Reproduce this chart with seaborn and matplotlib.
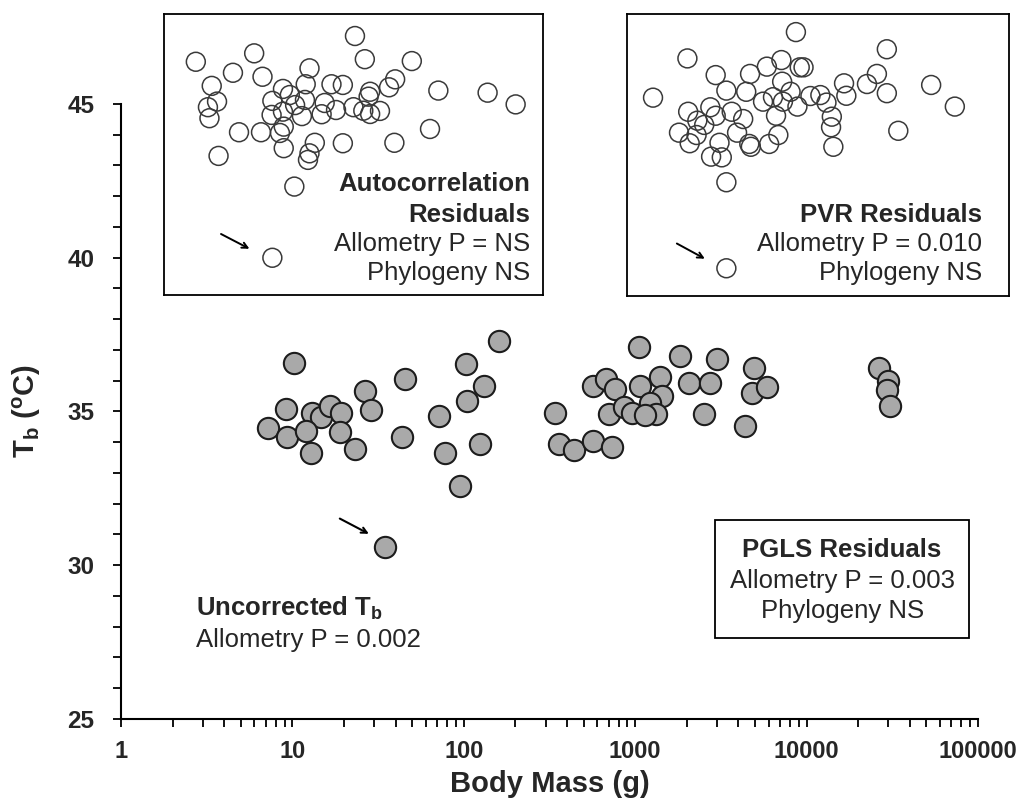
import matplotlib
matplotlib.use("Agg")
import matplotlib.pyplot as plt
import seaborn as sns
import pandas as pd
from matplotlib.patches import Rectangle
from matplotlib.ticker import MultipleLocator, LogLocator, NullFormatter

# Uncorrected body temperature (Tb, deg C) vs body mass (g)
mass = [10.2, 9.24, 7.22, 9.36, 13.1, 14.6, 16.6, 19.3, 12.0, 12.8,
        19.0, 23.1, 26.4, 28.9, 45.2, 43.8, 103, 161, 131, 105,
        71.6, 77.3, 124, 94.6, 34.5,
        1048, 343, 358, 438, 565, 733, 568, 679, 767, 701,
        857, 959, 1062, 1403, 1435, 1227, 1329, 1146, 1834, 2050,
        2717, 3001, 2530, 4347, 4970, 4839, 5917, 26600, 30000, 29650,
        30700]
tb = [36.57, 35.07, 34.47, 34.16, 34.96, 34.83, 35.18, 34.96, 34.37, 33.66,
      34.34, 33.77, 35.67, 35.05, 36.05, 34.18, 36.54, 37.30, 35.83, 35.34,
      34.85, 33.66, 33.94, 32.58, 30.58,
      37.11, 34.94, 33.94, 33.75, 34.05, 33.84, 35.83, 36.05, 35.72, 34.92,
      35.14, 34.94, 35.83, 36.13, 35.50, 35.27, 34.92, 34.89, 36.80, 35.92,
      35.92, 36.70, 34.92, 34.53, 36.40, 35.61, 35.81, 36.40, 36.00, 35.70,
      35.18]

# Autocorrelation residuals inset (x = log10 mass, y = residual)
acr_logmass = [0.42, 1.19, 0.91, 1.30, 0.63, 0.70, 0.58, 0.60, 0.99, 1.28,
               0.72, 1.92, 2.52, 2.65, 1.57, 1.87, 2.21, 2.36, 1.43, 1.73,
               1.57, 1.42, 1.82, 2.08, 2.27, 2.50, 2.63, 2.70, 1.58, 1.58,
               1.99, 1.92, 1.90, 2.36, 1.72, 2.72, 1.53, 3.27, 3.05, 2.97,
               2.85, 2.72, 3.62, 4.27, 4.64, 3.51, 3.04, 1.43, 1.86, 1.66,
               2.12]
acr_resid = [1.96, 2.32, 1.49, 1.32, 0.93, 0.26, 0.02, -0.45, -1.05, -1.05,
             -2.06, 1.68, 3.06, 2.07, 0.80, 1.00, 1.00, 0.97, 0.29, 0.11,
             -0.17, -0.31, -0.36, -0.28, -0.10, 0.02, -0.13, 0.47, -0.81, -1.73,
             -1.50, -1.95, -2.23, -1.52, -3.37, 0.68, -1.08, 1.99, 1.21, 0.87,
             -0.14, -0.27, 0.73, 0.64, 0.14, -0.91, -1.50, -6.41, 0.33, 0.54,
             0.20]

# PVR residuals inset (x = log10 mass, y = residual)
pvr_logmass = [2.21, 0.79, 1.16, 1.30, 1.61, 1.83, 2.02, 2.31, 2.26, 1.56,
               2.03, 2.14, 0.34, 0.80, 1.09, 1.16, 1.37, 1.52, 0.92, 0.68,
               0.91, 0.82, 1.21, 1.44, 1.60, 1.62, 1.86, 1.98, 1.10, 1.24,
               1.30, 1.78, 1.91, 2.04, 1.95, 2.23, 2.40, 2.53, 2.61, 2.68,
               2.67, 2.70, 2.84, 2.87, 3.14, 3.40, 3.27, 3.40, 3.98, 4.29,
               3.55, 1.30, 1.01]
pvr_resid = [3.23, 2.11, 1.40, 0.74, 1.45, 1.76, 2.04, 1.73, 1.73, 0.69,
             1.12, 0.69, 0.44, -0.16, 0.03, -0.33, -0.16, -0.47, -0.54, -1.05,
             -1.15, -1.50, -1.48, -1.05, -1.53, -1.65, -1.53, -1.15, -2.07, -2.10,
             -3.16, 0.27, 0.46, 0.27, -0.33, 0.06, 0.51, 0.55, 0.23, -0.37,
             -0.82, -1.65, 1.05, 0.52, 1.02, 2.50, 1.45, 0.63, 0.98, 0.06,
             -0.97, -6.82, -0.72]

x_ticks = [1, 10, 100, 1000, 10000, 100000]
x_ticklabels = ["1", "10", "100", "1000", "10000", "100000"]
y_ticks = [25, 30, 35, 40, 45]

sns.set_style("ticks")
plt.rcParams["font.family"] = ["Liberation Sans", "DejaVu Sans"]
plt.rcParams["mathtext.fontset"] = "custom"
plt.rcParams["mathtext.rm"] = "Liberation Sans"
plt.rcParams["mathtext.it"] = "Liberation Sans:italic"
plt.rcParams["mathtext.bf"] = "Liberation Sans:bold"

fig = plt.figure(figsize=(10.32, 8), dpi=100)
ax = fig.add_axes([0.1172, 0.10125, 0.8304, 0.76875])

main = pd.DataFrame({"mass": mass, "tb": tb})
sns.scatterplot(data=main, x="mass", y="tb", ax=ax, s=235,
                color="#a9a9a9", edgecolor="#1c1c1c", linewidth=1.5,
                zorder=3, clip_on=False)
ax.set_xscale("log")
ax.set_xlim(1, 100000)
ax.set_ylim(25, 45)
ax.set_xticks(x_ticks, x_ticklabels)
ax.xaxis.set_minor_locator(LogLocator(base=10, subs=range(2, 10)))
ax.xaxis.set_minor_formatter(NullFormatter())
ax.set_yticks(y_ticks)
ax.yaxis.set_minor_locator(MultipleLocator(1))
ax.tick_params(which="both", direction="out", length=6, width=1.3,
               color="black")
ax.tick_params(axis="x", which="major", labelsize=17, pad=9)
ax.tick_params(axis="y", which="major", labelsize=17.5, pad=13)
for lab in ax.get_xticklabels() + ax.get_yticklabels():
    lab.set_fontweight("bold")
sns.despine(ax=ax)
for side in ["left", "bottom"]:
    ax.spines[side].set_linewidth(1.5)
    ax.spines[side].set_color("black")

ax.set_xlabel("Body Mass (g)", fontsize=21, fontweight="bold")
ax.set_ylabel(r"$\mathbf{T_b\ (^oC)}$", fontsize=21)
ax.xaxis.set_label_coords(0.5, -0.083)
ax.yaxis.set_label_coords(-0.091, 0.5)

ax.annotate("", xy=(28.9, 30.98), xytext=(18.3, 31.56),
            arrowprops=dict(arrowstyle="->", color="black", lw=1.5))

ax.text(0.087, 0.180, r"$\mathbf{Uncorrected\ T_b}$", transform=ax.transAxes,
        fontsize=18.5, ha="left", va="center")
ax.text(0.087, 0.128, "Allometry P = 0.002", transform=ax.transAxes,
        fontsize=18.5, ha="left", va="center")

# PGLS box
ax.add_patch(Rectangle((0.693, 0.1317), 0.2964, 0.1919, transform=ax.transAxes,
                       fc="white", ec="black", lw=1.3, zorder=4))
ax.text(0.8415, 0.275, "PGLS Residuals", transform=ax.transAxes,
        fontsize=18.5, fontweight="bold", ha="center", va="center", zorder=5)
ax.text(0.8415, 0.2244, "Allometry P = 0.003", transform=ax.transAxes,
        fontsize=18.5, ha="center", va="center", zorder=5)
ax.text(0.8415, 0.1756, "Phylogeny NS", transform=ax.transAxes,
        fontsize=18.5, ha="center", va="center", zorder=5)


def inset(rect, xs, ys, arrow, lines):
    ia = fig.add_axes(rect)
    df = pd.DataFrame({"logmass": xs, "resid": ys})
    sns.scatterplot(data=df, x="logmass", y="resid", ax=ia, s=185,
                    color="#3a3a3a", facecolor="none", edgecolor="#3a3a3a",
                    linewidth=1.1)
    ia.set_xlim(0, 5)
    ia.set_ylim(-8, 4)
    ia.set_xticks([])
    ia.set_yticks([])
    ia.set_xlabel("")
    ia.set_ylabel("")
    for sp in ia.spines.values():
        sp.set_visible(True)
        sp.set_linewidth(1.3)
        sp.set_color("black")
    ia.annotate("", xy=arrow[1], xytext=arrow[0],
                arrowprops=dict(arrowstyle="->", color="black", lw=1.4))
    for txt, xf, yf, bold in lines:
        ia.text(xf, yf, txt, transform=ia.transAxes, fontsize=18.5,
                ha="right", va="center",
                fontweight="bold" if bold else "normal")
    return ia


inset([0.1589, 0.63125, 0.3672, 0.35125], acr_logmass, acr_resid,
      [(0.72, -5.34), (1.16, -6.08)],
      [("Autocorrelation", 0.966, 0.395, True),
       ("Residuals", 0.966, 0.285, True),
       ("Allometry P = NS", 0.966, 0.181, False),
       ("Phylogeny NS", 0.966, 0.078, False)])

inset([0.6076, 0.63, 0.3702, 0.3525], pvr_logmass, pvr_resid,
      [(0.62, -5.71), (1.05, -6.47)],
      [("PVR Residuals", 0.9285, 0.287, True),
       ("Allometry P = 0.010", 0.9285, 0.184, False),
       ("Phylogeny NS", 0.9285, 0.082, False)])

fig.savefig("out.png", dpi=100, facecolor="white")
